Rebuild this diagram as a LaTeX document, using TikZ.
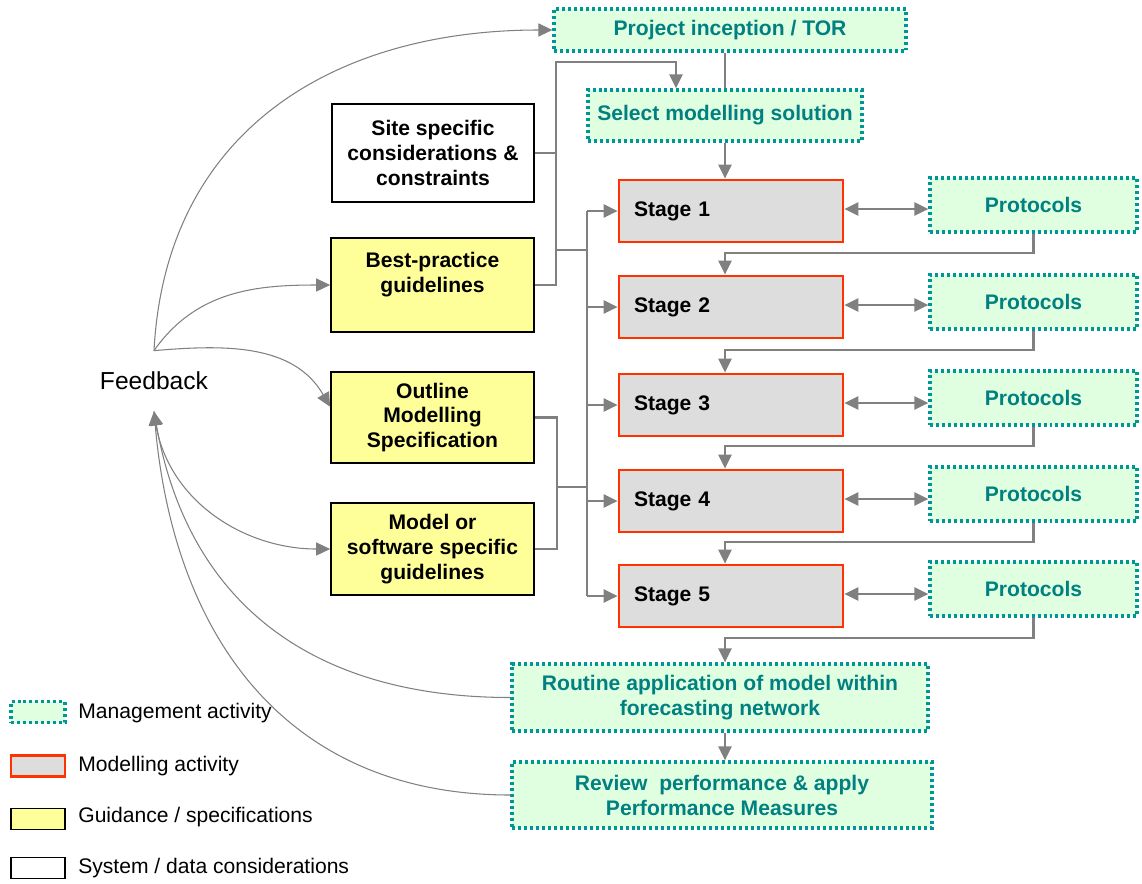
\documentclass[tikz,border=0pt]{standalone}
\usepackage{fontspec}
\setmainfont{Liberation Sans}
\usepackage{tikz}
\usetikzlibrary{arrows.meta}

\definecolor{mgmtline}{RGB}{0,150,150}
\definecolor{mgmttext}{RGB}{0,128,128}
\definecolor{mgmtfill}{RGB}{224,255,224}
\definecolor{stageline}{RGB}{255,51,0}
\definecolor{stagefill}{RGB}{221,221,221}
\definecolor{guidefill}{RGB}{255,255,153}
\definecolor{conngray}{RGB}{128,128,128}

\newcommand{\boxfont}{\bfseries\fontsize{12}{14.2}\selectfont}

\tikzset{
  mgmt/.style={draw=mgmtline, fill=mgmtfill, line width=1.9pt,
    dash pattern=on 1.7pt off 1.7pt, text=mgmttext, font=\boxfont,
    align=center, inner sep=0pt},
  stagebox/.style={draw=stageline, fill=stagefill, line width=1.6pt,
    font=\boxfont, text width=3.88cm, inner xsep=0.3cm, align=left,
    minimum width=4.48cm, minimum height=1.24cm},
  guide/.style={draw=black, fill=guidefill, line width=1pt, font=\boxfont,
    align=center, minimum width=4.06cm, inner sep=0pt},
  sysbox/.style={draw=black, fill=white, line width=1pt, font=\boxfont,
    align=center, minimum width=4.04cm, inner sep=0pt},
  conn/.style={draw=conngray, line width=1.2pt},
  fb/.style={draw=conngray, line width=0.6pt},
  legend/.style={font=\fontsize{12}{14}\selectfont, anchor=west, inner sep=0pt},
  >={Triangle[length=8pt,width=7.5pt]}
}

\begin{document}
\begin{tikzpicture}[x=0.02cm, y=-0.02cm]
\useasboundingbox (0,0) rectangle (1142,883);

%% management boxes
\node[mgmt, minimum width=7.04cm, minimum height=0.84cm] (tor) at (730,30) {Project inception / TOR};
\node[mgmt, minimum width=5.48cm, minimum height=1.02cm] (sel) at (725,115.5) {Select modelling solution};
\node[mgmt, minimum width=8.32cm, minimum height=1.34cm] (rout) at (720,697.5) {Routine application of model within\\forecasting network};
\node[mgmt, minimum width=8.4cm, minimum height=1.32cm] (rev) at (722,795) {Review\ \ performance \& apply\\Performance Measures};

%% guidance boxes
\node[sysbox, minimum height=1.96cm] (site) at (433,153) {Site specific\\considerations \&\\constraints};
\node[guide, minimum height=1.88cm] (best) at (432.5,285) {Best-practice\\guidelines\\~};
\node[guide, minimum height=1.82cm] (outl) at (432.5,417.5) {Outline\\Modelling\\Specification};
\node[guide, minimum height=1.84cm] (msw) at (432.5,549) {Model or\\software specific\\guidelines};

%% stages and protocols
\foreach \i/\y in {1/211,2/307,3/405,4/501,5/596}
  \node[stagebox] (s\i) at (731,\y) {Stage \i};
\foreach \i/\y in {1/205,2/302,3/398,4/494,5/589}
  \node[mgmt, minimum width=4.14cm, minimum height=1.08cm] (p\i) at (1033.5,\y) {Protocols};

\node[font=\fontsize{14}{16}\selectfont, minimum height=1.2cm, inner sep=0pt] (fback) at (154,381) {Feedback};

%%% edges
\draw[conn] (tor.south -| sel.south) -- (sel.north -| sel.south);
\draw[conn,->] (sel.south) -- (sel.south |- s1.north);

\coordinate (bustop) at (556,62);
\coordinate (selin) at (676,62);
\draw[conn,->] (best.east) -| (bustop) -- (selin) -- (selin |- sel.north);
\draw[conn] (site.east) -- (site.east -| bustop);
\draw[conn] (556,250) -- (587,250);
\draw[conn] (outl.east) -- ++(22,0) |- (msw.east);
\draw[conn] (556,487) -- (587,487);

\coordinate (sbus) at (587,0);
\draw[conn] (sbus |- s1.west) -- (sbus |- s5.west);
\foreach \i in {1,...,5}{
  \draw[conn,->] (sbus |- s\i.west) -- (s\i.west);
  \draw[conn,<->] ([yshift=0.04cm]s\i.east) -- ([yshift=0.04cm]s\i.east -| p\i.west);
}
\foreach \i/\j in {1/2,2/3,3/4,4/5}
  \draw[conn,->] (p\i.south) -- ++(0,19) -| (sel.south |- s\j.north);
\draw[conn,->] (p5.south) -- ++(0,20) -| (sel.south |- rout.north);
\draw[conn,->] (sel.south |- rout.south) -- (sel.south |- rev.north);

%%% feedback
\draw[fb,->] (fback.north) to[out=87, in=180, looseness=1.1] (tor.west);
\draw[fb,->] (fback.north) to[out=55, in=180] (best.west);
\draw[fb,->] (fback.north) to[out=5, in=120] (outl.174);
\draw[fb,->] (fback.south) to[out=-85, in=180] (msw.west);
\draw[fb,->] (rout.west) to[out=180, in=-80, looseness=1.1] (fback.south);
\draw[fb,->] (rev.west) to[out=180, in=-85, looseness=1.1] (fback.south);

%% legend
\node[mgmt, minimum width=1.08cm, minimum height=0.42cm] (lgm) at (38,712) {};
\node[stagebox, text width=0pt, inner xsep=0pt, minimum width=1.08cm, minimum height=0.42cm] (lgs) at (38,766) {};
\node[guide, minimum width=1.08cm, minimum height=0.42cm] (lgg) at (38,819) {};
\node[sysbox, minimum width=1.08cm, minimum height=0.42cm] (lgw) at (38,868) {};
\node[legend] (lgmt) at (78,713) {Management activity};
\node[legend] (lgst) at (78,766) {Modelling activity};
\node[legend] (lggt) at (78,817) {Guidance / specifications};
\node[legend] (lgwt) at (78,868) {System / data considerations};

\end{tikzpicture}
\end{document}
